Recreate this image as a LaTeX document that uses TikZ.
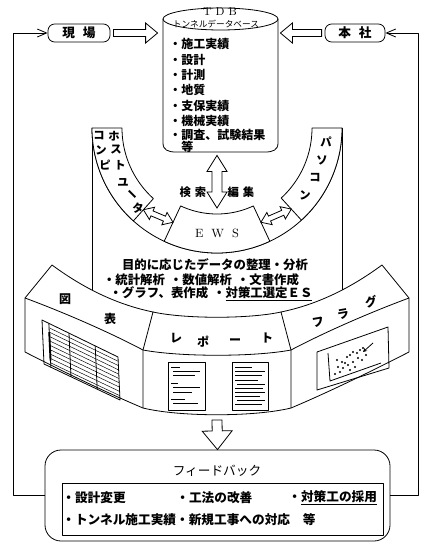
\documentclass[tikz,border=0pt]{standalone}
\usepackage{fontspec}
\newfontfamily\jp{Noto Sans CJK JP}
\usetikzlibrary{calc,arrows.meta}
\tikzset{
  jtext/.style={font=\jp\bfseries\fontsize{9}{10}\selectfont, inner sep=0pt},
  lbox/.style={draw, rounded corners=5pt, font=\jp\bfseries\fontsize{9.5}{10}\selectfont, inner sep=0pt},
  hollow/.style={draw, fill=white, line width=0.6pt, line join=miter},
  fbline/.style={-{Straight Barb[length=7pt,width=6pt]}},
  thinl/.style={line width=0.35pt}
}
\newcommand\hollowarrow[5]{%
  \coordinate (haS) at (#1); \coordinate (haE) at (#2);
  \coordinate (haB) at ($(haE)!#5!(haS)$);
  \draw[hollow] ($(haS)!#3!90:(haE)$) -- ($(haB)!#3!-90:(haS)$) -- ($(haB)!#4!-90:(haS)$) -- (haE)
     -- ($(haB)!#4!90:(haS)$) -- ($(haB)!#3!90:(haS)$) -- ($(haS)!#3!-90:(haE)$) -- cycle;}
\newcommand\hollowdarrow[5]{%
  \coordinate (haS) at (#1); \coordinate (haE) at (#2);
  \coordinate (haB) at ($(haE)!#5!(haS)$); \coordinate (haA) at ($(haS)!#5!(haE)$);
  \draw[hollow] (haS) -- ($(haA)!#4!90:(haE)$) -- ($(haA)!#3!90:(haE)$) -- ($(haB)!#3!-90:(haS)$)
     -- ($(haB)!#4!-90:(haS)$) -- (haE) -- ($(haB)!#4!90:(haS)$) -- ($(haB)!#3!90:(haS)$)
     -- ($(haA)!#3!-90:(haE)$) -- ($(haA)!#4!-90:(haE)$) -- cycle;}
\begin{document}
\begin{tikzpicture}[x=0.75pt,y=-0.75pt,line width=0.6pt,line join=round]
\useasboundingbox (0,0) rectangle (430,542);

% ---------- TDB cylinder
\node[minimum width=86.25pt, minimum height=108pt, inner sep=0pt] (tdb) at (220.5,80) {};
\draw[fill=white] (163,19) -- (163,143) .. controls (163,150) and (168,152) .. (176,152) -- (265,152)
   .. controls (273,152) and (278,150) .. (278,143) -- (278,19);
\draw (220.5,19) ellipse [x radius=57.5, y radius=11];
\node[font=\fontsize{8.5}{9}\selectfont, inner sep=0pt] at (220,12) {T\hspace{3pt}D\hspace{3pt}B};
\node[jtext, font=\jp\fontsize{6.5}{7}\selectfont] at (216,24.5) {トンネルデータベース};
\foreach \t/\y in {施工実績/44, 設計/60, 計測/75, 地質/90, 支保実績/106, 機械実績/121, 調査、試験結果/135}
  \node[jtext, anchor=west] at (169,\y) {・\t};
\node[jtext, anchor=west] at (181,147) {等};

% ---------- site / head office
\node[lbox, minimum width=46.5pt, minimum height=13.5pt] (genba) at (79,33) {現\hspace{6pt}場};
\node[lbox, minimum width=45pt, minimum height=13.5pt] (honsha) at (355,33) {本\hspace{6pt}社};
\hollowarrow{$(genba.east)+(3,0)$}{$(tdb.west |- genba.east)+(-5,0)$}{2.6pt}{7.5pt}{9pt}
\hollowarrow{$(honsha.west)+(-3,0)$}{$(tdb.east |- honsha.west)+(2,0)$}{2.6pt}{7.5pt}{9pt}

% ---------- panel and ring
\draw (92,128) -- (92,290);
\draw (342,128) -- (342,290);
\draw plot[domain=180:0, samples=90] ({217+125*cos(\x)},{128+125*sin(\x)});
\draw[fill=white] plot[domain=180:132,samples=40] ({217+125*cos(\x)},{128+125*sin(\x)})
   -- plot[domain=132:180,samples=40] ({217+95*cos(\x)},{128+95*sin(\x)}) -- cycle;
\draw[fill=white] plot[domain=0:47.5,samples=40] ({217+125*cos(\x)},{128+125*sin(\x)})
   -- plot[domain=47.5:0,samples=40] ({217+95*cos(\x)},{128+95*sin(\x)}) -- cycle;
\draw[fill=white] plot[domain=65:115,samples=40] ({217+125*cos(\x)},{128+125*sin(\x)})
   -- plot[domain=115:65,samples=40] ({217+86*cos(\x)},{128+86*sin(\x)}) -- cycle;
\coordinate (O) at (217,128);
\coordinate (hostEnd) at ($(O)+(132:110)$);
\coordinate (pcEnd) at ($(O)+(47.5:110)$);
\node[font=\fontsize{9}{9}\selectfont, inner sep=0pt] (ews) at (217,233) {E\hspace{6pt}W\hspace{6pt}S};

% ring labels
\begin{scope}[every node/.style={jtext, font=\jp\bfseries\fontsize{8.5}{9}\selectfont}]
\node at (99,136) {コ};  \node at (114,136) {ホ};
\node at (101,150) {ン}; \node at (116,150) {ス};
\node at (105,165) {ピ}; \node at (120,165) {ト};
\node at (123,182) {ユ};
\node[rotate=-45] at (131,196) {ー};
\node at (138,208) {タ};
\node at (326,142) {パ};
\node at (322,160) {ソ};
\node at (315,178) {コ};
\node at (305,195) {ン};
\node at (193,192) {検\hspace{3pt}索};
\node at (241,192) {編\hspace{3pt}集};
\end{scope}

\hollowdarrow{$(ews |- tdb.south)+(0,3)$}{$(ews.center)+(0,-25)$}{3.75pt}{7.5pt}{12pt}
\hollowdarrow{hostEnd}{$(O)+(115:104)$}{2pt}{5pt}{7pt}
\hollowdarrow{pcEnd}{$(O)+(65:104)$}{2pt}{5pt}{7pt}

% panel text
\node[jtext, font=\jp\bfseries\fontsize{9.3}{10}\selectfont] at (215,265) {目的に応じたデータの整理・分析};
\node[jtext, font=\jp\bfseries\fontsize{9.3}{10}\selectfont] at (201,280) {・統計解析\hspace{0.4em}・数値解析\hspace{0.4em}・文書作成};
\node[jtext, font=\jp\bfseries\fontsize{9.3}{10}\selectfont] at (211,294) {・グラフ、表作成\hspace{0.4em}・\underline{対策工選定ＥＳ}};

% ---------- output fan
\draw (52,265) -- (25,298) -- (25,352);
\draw (52,265) .. controls (86,290) and (119,305) .. (153,312) -- (143,350) -- (143,408);
\draw (25,298) .. controls (60,311) and (105,330) .. (143,350);
\draw (25,352) .. controls (60,370) and (105,392) .. (143,408);
\draw (153,312) .. controls (185,319) and (249,319) .. (281,312);
\draw (143,350) .. controls (180,357) and (254,357) .. (291,350);
\draw (143,408) .. controls (180,417) and (254,417) .. (291,408);
\draw (382,265) -- (409,298) -- (409,352);
\draw (382,265) .. controls (348,290) and (315,305) .. (281,312) -- (291,350) -- (291,408);
\draw (409,298) .. controls (374,311) and (329,330) .. (291,350);
\draw (409,352) .. controls (374,370) and (329,392) .. (291,408);

\node[jtext] at (65,299) {図};
\node[jtext] at (110,319) {表};
\node[jtext] at (176,338) {レ};
\node[jtext] at (203,342) {ポ};
\node[jtext] at (235,342) {ー};
\node[jtext] at (267,338) {ト};
\node[jtext, rotate=10] at (318,322) {フ};
\node[jtext, rotate=10] at (343,314) {ラ};
\node[jtext, rotate=10] at (371,302) {グ};

% table
\coordinate (tTL) at (42,320); \coordinate (tTR) at (118,357);
\coordinate (tBR) at (120,400); \coordinate (tBL) at (44,364);
\draw (tTL) -- (tTR) -- (tBR) -- (tBL) -- cycle;
\coordinate (hT) at ($(tTL)!0.09!(tTR)$); \coordinate (hB) at ($(tBL)!0.09!(tBR)$);
\draw (hT) -- (hB);
\draw[line width=1.4pt] ($(hT)!0.2!(hB)$) -- ($(hT)!0.85!(hB)$);
\foreach \f in {0.355,0.70} \draw ($(tTL)!\f!(tTR)$) -- ($(tBL)!\f!(tBR)$);
\foreach \i in {1,...,9} \draw[thinl] ($(hT)!\i/10!(hB)$) -- ($(tTR)!\i/10!(tBR)$);

% report pages
\draw (168,362) rectangle (205,410);
\draw (232,362) rectangle (268,410);
\foreach \a/\b/\y in {171/180/367, 173/200/371, 173/195/375, 171/178/383, 173/200/387, 173/192/392, 171/185/399, 173/198/403}
  \draw[thinl] (\a,\y) -- (\b,\y);
\foreach \a/\b/\y in {235/252/367, 235/265/371, 235/262/375, 235/258/380, 237/265/384, 235/263/388, 235/265/392, 235/260/396, 237/265/400, 235/262/404}
  \draw[thinl] (\a,\y) -- (\b,\y);

% graph
\draw (317,352) -- (388,327) -- (389,368) -- (317,390) -- cycle;
\draw (328,353) -- (330,381) -- (381,363);
\foreach \px/\py in {337/360, 342/362, 347/357, 350/355, 353/352, 357/353, 360/350, 363/348, 358/358, 353/362, 348/365, 343/368, 340/372, 335/374, 355/367, 362/360, 350/370, 345/363, 338/367, 366/355}
  \fill (\px,\py) circle[radius=0.9pt];
\draw[-{Stealth[length=3pt,width=3pt]}] (373,343) -- (363,352);

% ---------- feedback
\node[inner sep=0pt] (report) at (217,415) {};
\node[draw, rounded corners=12pt, minimum width=258.75pt, minimum height=68.25pt] (fb) at (217.5,495.5) {};
\hollowarrow{$(report)+(0,5)$}{fb.north}{3.75pt}{11.25pt}{14pt}
\draw (62,483) rectangle (383,535);
\node[jtext, font=\jp\fontsize{9.5}{10}\selectfont] at (217,471) {フィードバック};
\begin{scope}[every node/.style={jtext, font=\jp\bfseries\fontsize{9.5}{10}\selectfont, anchor=west}]
\node at (62,498) {・設計変更};
\node at (176,498) {・工法の改善};
\node at (288,498) {・\underline{対策工の採用}};
\node at (62,520) {・トンネル施工実績・新規工事への対応\hspace{1em}等};
\end{scope}

\draw[fbline] (fb.west) -- ++(-31,0) |- (genba.west);
\draw[fbline] (fb.east) -- ++(28,0) |- (honsha.east);
\end{tikzpicture}
\end{document}
